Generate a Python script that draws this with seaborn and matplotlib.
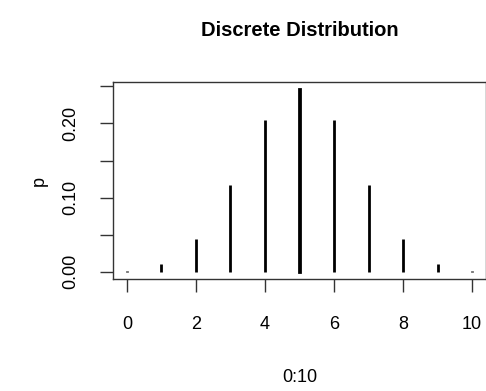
import numpy as np
import pandas as pd
import seaborn as sns
import matplotlib.pyplot as plt

# значения
x = [0, 1, 2, 3, 4, 5, 6, 7, 8, 9, 10]
p = [0.001, 0.0098, 0.044, 0.117, 0.205, 0.246, 0.205, 0.117, 0.044, 0.0098, 0.001]
xticks = [0, 2, 4, 6, 8, 10]
yticks = [0.00, 0.05, 0.10, 0.15, 0.20, 0.25]
ylabels = ['0.00', '', '0.10', '', '0.20', '']

df = pd.DataFrame({'x': x, 'p': p})

sns.set_style('ticks')
plt.rcParams['font.family'] = ['Liberation Sans', 'DejaVu Sans']
plt.rcParams['text.color'] = 'black'
plt.rcParams['axes.labelcolor'] = 'black'

fig = plt.figure(figsize=(4.86, 3.91), dpi=100)
ax = fig.add_axes([113 / 486, (391 - 279) / 391, 373 / 486, 197 / 391])

# вертикальные линии (type = "h") через узкие столбики с обводкой
sns.barplot(data=df, x='x', y='p', native_scale=True, width=0.002,
            color='black', saturation=1, edgecolor='black', linewidth=2,
            ax=ax)

ax.set_xlim(-0.4, 10.4)
ax.set_ylim(-0.00984, 0.2559)
ax.set_xticks(xticks)
ax.set_xticklabels([str(v) for v in xticks])
ax.set_yticks(yticks)
ax.set_yticklabels(ylabels, rotation=90, va='center')
ax.tick_params(direction='out', length=9.4, width=1, color='#333333',
               labelsize=13, labelcolor='black')
ax.tick_params(axis='x', pad=17)
ax.tick_params(axis='y', pad=15)
for s in ax.spines.values():
    s.set_visible(True)
    s.set_color('#333333')
    s.set_linewidth(1)

ax.set_xlabel('0:10', fontsize=13, labelpad=26)
ax.set_ylabel('p', fontsize=13, labelpad=10)
fig.suptitle('Discrete Distribution', fontsize=14.5, fontweight='bold',
             x=300 / 486, y=1 - 30 / 391, va='center', color='black')

fig.savefig('out.png', dpi=100)
